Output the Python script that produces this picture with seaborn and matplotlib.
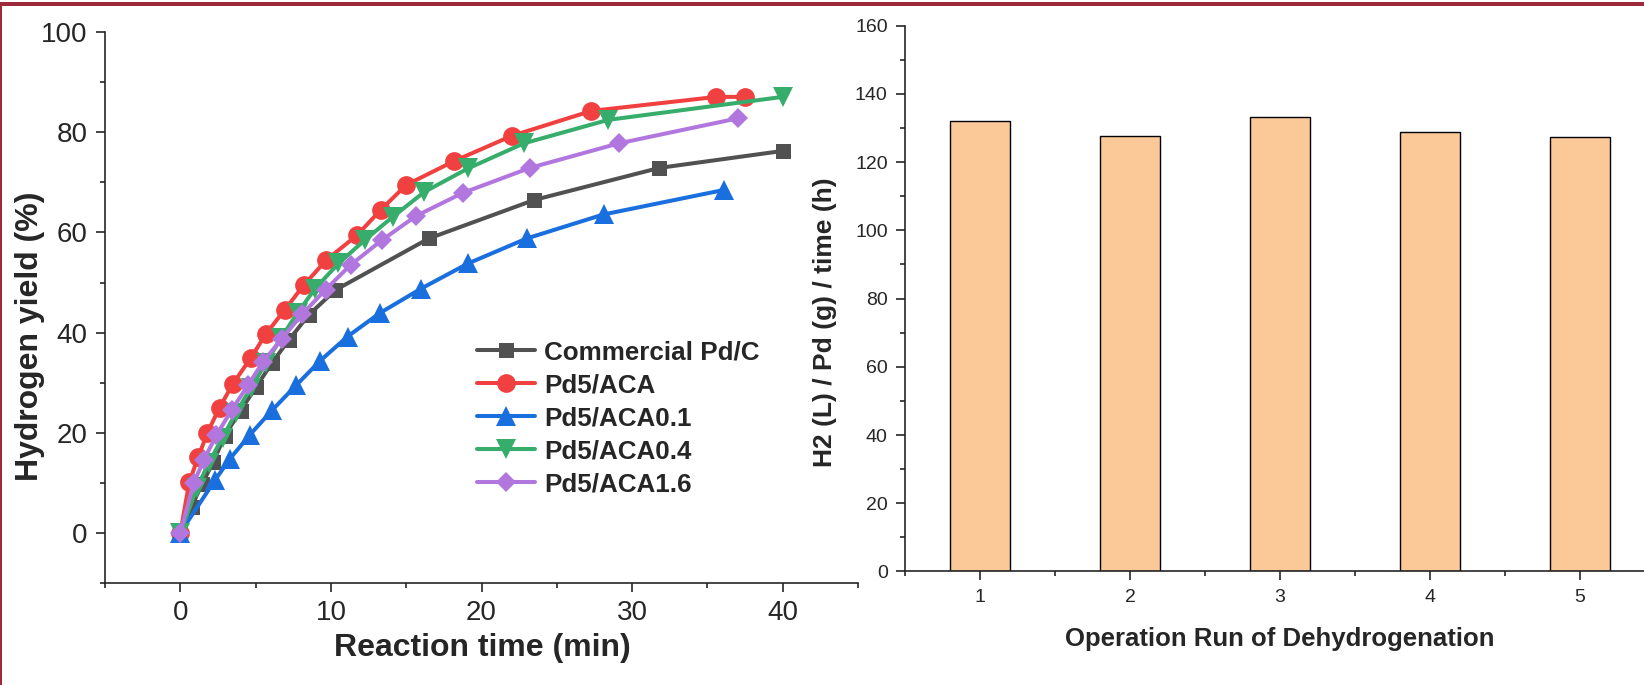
import matplotlib
matplotlib.use("Agg")
import matplotlib.pyplot as plt
import pandas as pd
import seaborn as sns
from matplotlib.patches import Rectangle
from matplotlib.ticker import MultipleLocator

# ---- hydrogen evolution curves (time in min, yield in %) ----
time_pdc = [0, 0.75, 1.45, 2.2, 2.95, 4.0, 5.05, 6.1, 7.2, 8.55, 10.3, 16.5, 23.5, 31.8, 40.0]
yield_pdc = [0, 5.2, 9.8, 14.2, 19.4, 24.4, 29.2, 34.0, 38.5, 43.6, 48.5, 58.8, 66.5, 72.9, 76.3]

time_aca = [0, 0.6, 1.2, 1.8, 2.6, 3.5, 4.7, 5.7, 6.95, 8.2, 9.7, 11.75, 13.3, 15.0, 18.2, 22.0, 27.3, 35.6, 37.5]
yield_aca = [0, 10.2, 15.2, 20.0, 25.0, 29.8, 35.0, 39.8, 44.6, 49.5, 54.5, 59.5, 64.5, 69.5, 74.3, 79.3, 84.3, 87.1, 87.1]

time_aca01 = [0, 2.3, 3.3, 4.6, 6.1, 7.7, 9.3, 11.1, 13.25, 16.0, 19.1, 23.0, 28.1, 36.1]
yield_aca01 = [0, 10.5, 14.8, 19.5, 24.5, 29.5, 34.4, 39.2, 43.9, 48.8, 53.8, 58.8, 63.6, 68.5]

time_aca04 = [0, 1.1, 1.9, 2.8, 3.7, 4.7, 5.7, 6.7, 7.8, 8.95, 10.5, 12.25, 14.1, 16.2, 19.1, 22.8, 28.4, 40.0]
yield_aca04 = [0, 9.0, 14.0, 19.0, 24.0, 29.0, 34.0, 39.0, 44.0, 48.8, 53.8, 58.5, 63.1, 68.1, 72.8, 77.8, 82.5, 87.1]

time_aca16 = [0, 0.9, 1.55, 2.4, 3.4, 4.5, 5.5, 6.75, 8.1, 9.65, 11.3, 13.4, 15.65, 18.75, 23.2, 29.1, 37.0]
yield_aca16 = [0, 10.0, 14.5, 19.5, 24.5, 29.5, 34.2, 38.8, 43.7, 48.6, 53.5, 58.5, 63.3, 67.9, 72.9, 77.8, 82.8]

series_names = ["Commercial Pd/C", "Pd5/ACA", "Pd5/ACA0.1", "Pd5/ACA0.4", "Pd5/ACA1.6"]

# ---- recycling test ----
runs = [1, 2, 3, 4, 5]
rate = [132.2, 127.7, 133.1, 128.7, 127.4]

sns.set_theme(style="ticks")
plt.rcParams["font.family"] = ["Liberation Sans", "DejaVu Sans"]
plt.rcParams["axes.linewidth"] = 1.2

fig = plt.figure(figsize=(16.44, 6.85), dpi=100)
ax1 = fig.add_axes([0.0639, 0.1493, 0.4580, 0.8035])
ax2 = fig.add_axes([0.5505, 0.1657, 0.4562, 0.7968])

styles = [
    (time_pdc, yield_pdc, "#515151", "s", 10.8),
    (time_aca, yield_aca, "#F14040", "o", 13.5),
    (time_aca01, yield_aca01, "#1A6FDF", "^", 14.5),
    (time_aca04, yield_aca04, "#37AD6B", "v", 14.5),
    (time_aca16, yield_aca16, "#B177DE", "D", 10.0),
]
for name, (t, y, c, m, ms) in zip(series_names, styles):
    df = pd.DataFrame({"time": t, "yield": y})
    sns.lineplot(data=df, x="time", y="yield", ax=ax1, color=c, marker=m,
                 markersize=ms, markeredgewidth=0, linewidth=2.9,
                 estimator=None, label=name)

ax1.set_xlim(-5, 45)
ax1.set_ylim(-10, 100)
ax1.xaxis.set_major_locator(MultipleLocator(10))
ax1.xaxis.set_minor_locator(MultipleLocator(5))
ax1.yaxis.set_major_locator(MultipleLocator(20))
ax1.yaxis.set_minor_locator(MultipleLocator(10))
ax1.tick_params(which="major", direction="out", length=6.5, width=1.2, labelsize=20, pad=6)
ax1.tick_params(which="minor", direction="out", length=3.6, width=1.2)
ax1.set_xlabel("Reaction time (min)", fontsize=23, fontweight="bold", va="center")
ax1.set_ylabel("Hydrogen yield (%)", fontsize=23, fontweight="bold", va="center")
ax1.xaxis.set_label_coords(0.501, -0.119)
ax1.yaxis.set_label_coords(-0.0996, 0.448)
sns.despine(ax=ax1)

leg = ax1.legend(loc="upper left", bbox_to_anchor=(0.494, 0.4406), frameon=False,
                 borderaxespad=0, borderpad=0, handlelength=2.23, handletextpad=0.35,
                 labelspacing=0.35, prop={"size": 18.7, "weight": "bold"})

# ---- bar chart ----
bars = pd.DataFrame({"run": runs, "rate": rate})
sns.barplot(data=bars, x="run", y="rate", ax=ax2, native_scale=True, width=0.4,
            color="#FBC897", saturation=1, edgecolor="black", linewidth=1.0)
ax2.set_xlim(0.5, 5.5)
ax2.set_ylim(0, 160)
ax2.xaxis.set_major_locator(MultipleLocator(1))
ax2.xaxis.set_minor_locator(MultipleLocator(0.5))
ax2.yaxis.set_major_locator(MultipleLocator(20))
ax2.yaxis.set_minor_locator(MultipleLocator(10))
ax2.tick_params(which="major", direction="out", length=6.5, width=1.2, labelsize=14, pad=6)
ax2.tick_params(which="minor", direction="out", length=3.6, width=1.2)
ax2.set_xlabel("Operation Run of Dehydrogenation", fontsize=18.5, fontweight="bold", va="center")
ax2.set_ylabel("H2 (L) / Pd (g) / time (h)", fontsize=19, fontweight="bold", va="center")
ax2.xaxis.set_label_coords(0.5, -0.124)
ax2.yaxis.set_label_coords(-0.107, 0.456)
sns.despine(ax=ax2)

# ---- page frame ----
frame_c = "#9D2A3B"
W, H = 1644, 685
fig.add_artist(Rectangle((0, 1 - 5.7 / H), 1, 4.0 / H, transform=fig.transFigure,
                         facecolor=frame_c, edgecolor="none", zorder=10))
fig.add_artist(Rectangle((0, 0), 2.2 / W, 1 - 1.7 / H, transform=fig.transFigure,
                         facecolor=frame_c, edgecolor="none", zorder=10))

fig.savefig("out.png", dpi=100)
